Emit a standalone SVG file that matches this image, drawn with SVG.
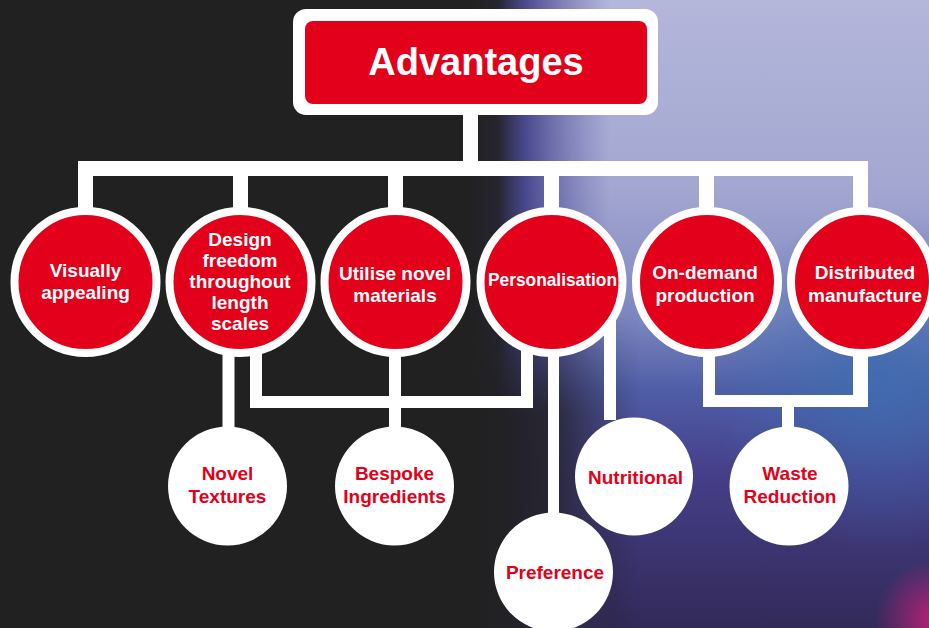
<svg xmlns="http://www.w3.org/2000/svg" width="929" height="628" viewBox="0 0 929 628">
  <defs>
    <!-- right-hand panel: lavender sky fading to deep purple -->
    <linearGradient id="panelV" x1="0" y1="0" x2="0" y2="1">
      <stop offset="0" stop-color="#b4b7da"/>
      <stop offset="0.3" stop-color="#a3a6d0"/>
      <stop offset="0.5" stop-color="#7f88c0"/>
      <stop offset="0.62" stop-color="#4f5ea6"/>
      <stop offset="0.75" stop-color="#463f8a"/>
      <stop offset="1" stop-color="#322a58"/>
    </linearGradient>
    <!-- blend from the dark left half into the panel -->
    <linearGradient id="panelH" x1="470" y1="0" x2="610" y2="0" gradientUnits="userSpaceOnUse">
      <stop offset="0" stop-color="#212121" stop-opacity="1"/>
      <stop offset="0.2" stop-color="#262530" stop-opacity="1"/>
      <stop offset="0.4" stop-color="#3a3882" stop-opacity="0.85"/>
      <stop offset="1" stop-color="#5a5ca8" stop-opacity="0"/>
    </linearGradient>
    <!-- lower part of the blend stays darker for longer -->
    <linearGradient id="lowerBlend" x1="470" y1="0" x2="640" y2="0" gradientUnits="userSpaceOnUse">
      <stop offset="0" stop-color="#212121" stop-opacity="1"/>
      <stop offset="0.45" stop-color="#232228" stop-opacity="0.9"/>
      <stop offset="1" stop-color="#2a2640" stop-opacity="0"/>
    </linearGradient>
    <linearGradient id="lowerMask" x1="0" y1="0" x2="0" y2="1">
      <stop offset="0" stop-color="#ffffff" stop-opacity="0"/>
      <stop offset="0.35" stop-color="#ffffff" stop-opacity="1"/>
      <stop offset="1" stop-color="#ffffff" stop-opacity="1"/>
    </linearGradient>
    <mask id="lowerFade">
      <rect x="470" y="300" width="170" height="328" fill="url(#lowerMask)"/>
    </mask>
    <radialGradient id="blueGlow" cx="880" cy="380" r="170" gradientUnits="userSpaceOnUse">
      <stop offset="0" stop-color="#3f6cb0" stop-opacity="0.9"/>
      <stop offset="1" stop-color="#3f6cb0" stop-opacity="0"/>
    </radialGradient>
    <radialGradient id="pinkGlow" cx="935" cy="620" r="60" gradientUnits="userSpaceOnUse">
      <stop offset="0" stop-color="#c0207a" stop-opacity="0.95"/>
      <stop offset="1" stop-color="#c0207a" stop-opacity="0"/>
    </radialGradient>
    <style>
      .link { fill: none; stroke: #ffffff; stroke-linejoin: miter; stroke-linecap: butt; }
      .main { stroke-width: 15; }
      .sub { stroke-width: 12; }
      .topic { fill: #e2001a; stroke: #ffffff; stroke-width: 8; }
      .leaf { fill: #ffffff; }
      text { font-family: "Liberation Sans", Arial, sans-serif; font-weight: bold; text-anchor: middle; }
      .w { fill: #ffffff; font-size: 19px; }
      .r { fill: #e2001a; font-size: 19px; }
    </style>
  </defs>

  <!-- background -->
  <rect width="929" height="628" fill="#212121"/>
  <rect x="470" y="0" width="459" height="628" fill="url(#panelV)"/>
  <rect x="470" y="0" width="459" height="628" fill="url(#blueGlow)"/>
  <rect x="470" y="0" width="459" height="628" fill="url(#pinkGlow)"/>
  <rect x="470" y="0" width="140" height="628" fill="url(#panelH)"/>
  <rect x="470" y="300" width="170" height="328" fill="url(#lowerBlend)" mask="url(#lowerFade)"/>

  <!-- connectors -->
  <g id="connectors">
    <path class="link main" d="M470.5,115 V168.5"/>
    <path class="link main" d="M85.5,215 V168.5 H860.5 V215"/>
    <path class="link main" d="M240.5,168.5 V215 M395.5,168.5 V215 M551.5,168.5 V215 M706.5,168.5 V215"/>
    <path class="link sub" d="M228.5,340 V430"/>
    <path class="link sub" d="M256,340 V402 H527 V340"/>
    <path class="link sub" d="M395,340 V430"/>
    <path class="link" stroke-width="11" d="M553.5,340 V515"/>
    <path class="link sub" d="M610,320 V420"/>
    <path class="link sub" d="M709,340 V401 H860.5"/>
    <path class="link main" d="M860.5,340 V407"/>
    <path class="link sub" d="M788,401 V430"/>
  </g>

  <!-- root -->
  <g id="advantages">
    <rect x="293" y="9" width="365" height="106" rx="13" fill="#ffffff"/>
    <rect x="305" y="21" width="342" height="83" rx="8" fill="#e2001a"/>
    <text x="476" y="75" fill="#ffffff" font-size="38">Advantages</text>
  </g>

  <!-- first-level topics -->
  <g id="visually-appealing">
    <circle class="topic" cx="85.5" cy="282" r="71"/>
    <text class="w" x="85.5" y="277">Visually</text>
    <text class="w" x="85.5" y="299">appealing</text>
  </g>
  <g id="design-freedom">
    <circle class="topic" cx="240.5" cy="282" r="71"/>
    <text class="w" x="240" y="246">Design</text>
    <text class="w" x="240" y="267">freedom</text>
    <text class="w" x="240" y="288">throughout</text>
    <text class="w" x="240" y="309">length</text>
    <text class="w" x="240" y="330">scales</text>
  </g>
  <g id="utilise-novel-materials">
    <circle class="topic" cx="395.5" cy="282" r="71"/>
    <text class="w" x="395" y="280">Utilise novel</text>
    <text class="w" x="395" y="302">materials</text>
  </g>
  <g id="personalisation">
    <circle class="topic" cx="551.5" cy="282" r="71"/>
    <text class="w" x="552.5" y="286" textLength="129" lengthAdjust="spacingAndGlyphs">Personalisation</text>
  </g>
  <g id="on-demand-production">
    <circle class="topic" cx="707" cy="282" r="71"/>
    <text class="w" x="705" y="279">On-demand</text>
    <text class="w" x="705" y="302">production</text>
  </g>
  <g id="distributed-manufacture">
    <circle class="topic" cx="862" cy="282" r="71"/>
    <text class="w" x="865" y="279">Distributed</text>
    <text class="w" x="865" y="302">manufacture</text>
  </g>

  <!-- second-level outcomes -->
  <g id="novel-textures">
    <circle class="leaf" cx="227.5" cy="486" r="59.5"/>
    <text class="r" x="227.5" y="480">Novel</text>
    <text class="r" x="227.5" y="503">Textures</text>
  </g>
  <g id="bespoke-ingredients">
    <circle class="leaf" cx="394.5" cy="486" r="59.5"/>
    <text class="r" x="394.5" y="480">Bespoke</text>
    <text class="r" x="394.5" y="503">Ingredients</text>
  </g>
  <g id="preference">
    <circle class="leaf" cx="553.5" cy="572" r="59.5"/>
    <text class="r" x="555" y="579">Preference</text>
  </g>
  <g id="nutritional">
    <circle class="leaf" cx="634" cy="476.5" r="59"/>
    <text class="r" x="635.5" y="484">Nutritional</text>
  </g>
  <g id="waste-reduction">
    <circle class="leaf" cx="789" cy="486" r="59.5"/>
    <text class="r" x="790" y="480">Waste</text>
    <text class="r" x="790" y="503">Reduction</text>
  </g>
</svg>
